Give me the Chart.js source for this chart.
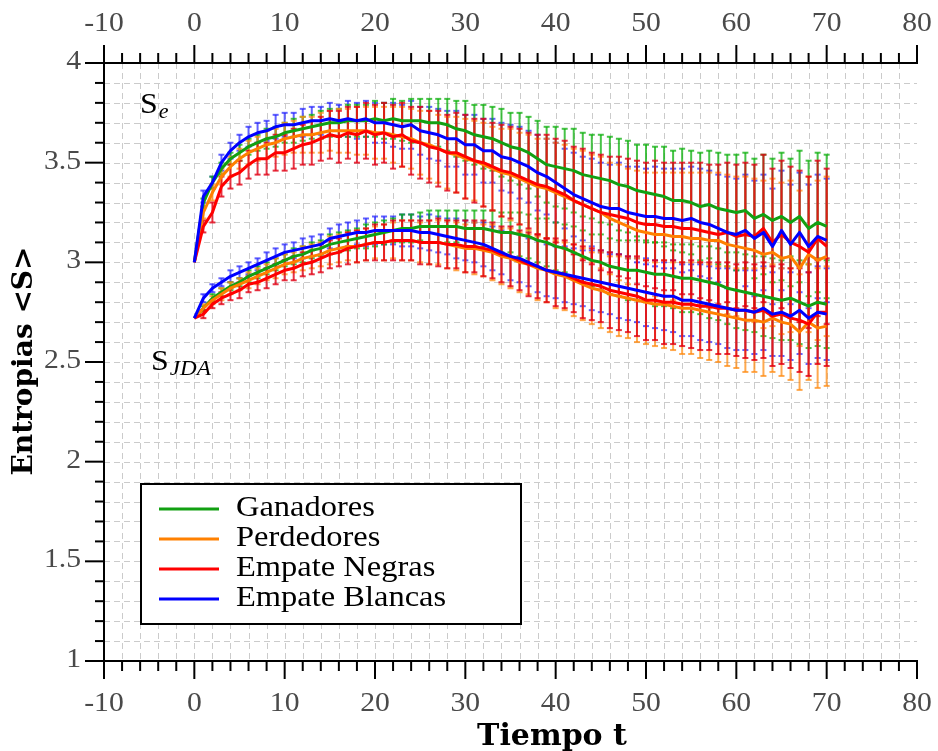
<!DOCTYPE html>
<html>
<head>
<meta charset="utf-8">
<script src="https://cdn.jsdelivr.net/npm/chart.js@4.4.0/dist/chart.umd.min.js"></script>
<style>
  html, body { margin: 0; padding: 0; background: #fff; }
</style>
</head>
<body>
<canvas id="myChart" width="938" height="751"></canvas>
<script>
// eje x: tiempo t = 0..70
const tiempo = Array.from({ length: 71 }, (_, i) => i)
const ticksX = [-10, 0, 10, 20, 30, 40, 50, 60, 70, 80]
const ticksY = [1, 1.5, 2, 2.5, 3, 3.5, 4]
const nombres = ['Ganadores', 'Perdedores', 'Empate Negras', 'Empate Blancas']

// S_e
const ganSe = [3.00,3.30,3.40,3.47,3.52,3.55,3.58,3.60,3.62,3.63,
  3.65,3.66,3.67,3.68,3.69,3.70,3.70,3.71,3.71,3.71,
  3.72,3.71,3.72,3.71,3.71,3.71,3.70,3.70,3.69,3.67,
  3.66,3.64,3.63,3.62,3.60,3.58,3.57,3.55,3.52,3.49,
  3.48,3.47,3.46,3.44,3.43,3.42,3.41,3.39,3.38,3.36,
  3.35,3.34,3.33,3.31,3.31,3.30,3.28,3.29,3.27,3.26,
  3.25,3.26,3.22,3.24,3.21,3.23,3.20,3.23,3.17,3.20,
  3.18]
const perSe = [3.00,3.25,3.35,3.43,3.48,3.52,3.55,3.57,3.59,3.60,
  3.62,3.63,3.64,3.64,3.65,3.66,3.66,3.66,3.66,3.66,
  3.65,3.65,3.64,3.63,3.62,3.60,3.59,3.57,3.55,3.54,
  3.52,3.51,3.49,3.47,3.45,3.44,3.42,3.40,3.38,3.37,
  3.35,3.33,3.31,3.29,3.27,3.25,3.22,3.20,3.18,3.16,
  3.15,3.14,3.14,3.13,3.13,3.12,3.12,3.11,3.11,3.09,
  3.08,3.07,3.06,3.04,3.05,3.02,3.03,2.97,3.04,3.01,
  3.03]
const negSe = [3.00,3.18,3.25,3.38,3.43,3.45,3.49,3.52,3.52,3.55,
  3.55,3.57,3.59,3.60,3.62,3.64,3.63,3.65,3.64,3.66,
  3.64,3.65,3.63,3.64,3.61,3.60,3.58,3.57,3.55,3.55,
  3.53,3.51,3.50,3.48,3.46,3.45,3.43,3.41,3.39,3.38,
  3.36,3.34,3.31,3.29,3.27,3.25,3.24,3.23,3.22,3.20,
  3.19,3.19,3.18,3.18,3.17,3.17,3.16,3.15,3.14,3.15,
  3.13,3.14,3.13,3.17,3.10,3.14,3.10,3.08,3.05,3.12,
  3.08]
const blaSe = [3.00,3.33,3.40,3.50,3.56,3.60,3.63,3.65,3.66,3.68,
  3.69,3.69,3.70,3.71,3.71,3.72,3.71,3.72,3.71,3.72,
  3.70,3.70,3.69,3.68,3.69,3.66,3.65,3.64,3.62,3.62,
  3.59,3.59,3.56,3.56,3.53,3.52,3.50,3.48,3.45,3.43,
  3.40,3.37,3.34,3.32,3.30,3.28,3.27,3.27,3.25,3.24,
  3.23,3.23,3.22,3.22,3.21,3.22,3.20,3.19,3.17,3.15,
  3.14,3.16,3.12,3.15,3.08,3.16,3.09,3.15,3.08,3.13,
  3.11]

// S_JDA
const ganJda = [2.72,2.77,2.82,2.85,2.88,2.90,2.93,2.95,2.97,2.99,
  3.01,3.03,3.04,3.06,3.07,3.09,3.10,3.11,3.12,3.13,
  3.14,3.15,3.16,3.17,3.17,3.18,3.18,3.18,3.18,3.18,
  3.17,3.17,3.17,3.16,3.15,3.15,3.14,3.13,3.11,3.10,
  3.08,3.07,3.05,3.03,3.01,3.00,2.98,2.97,2.96,2.96,
  2.95,2.94,2.94,2.93,2.92,2.92,2.91,2.90,2.89,2.87,
  2.86,2.85,2.84,2.83,2.82,2.81,2.82,2.80,2.78,2.80,
  2.79]
const perJda = [2.72,2.77,2.81,2.84,2.87,2.89,2.91,2.93,2.95,2.97,
  2.99,3.00,3.02,3.03,3.04,3.06,3.07,3.08,3.08,3.09,
  3.10,3.10,3.11,3.11,3.11,3.10,3.10,3.10,3.09,3.08,
  3.07,3.07,3.06,3.05,3.03,3.02,3.00,2.99,2.97,2.96,
  2.94,2.93,2.91,2.89,2.87,2.86,2.84,2.83,2.82,2.81,
  2.80,2.79,2.79,2.78,2.77,2.77,2.76,2.75,2.74,2.73,
  2.72,2.71,2.71,2.70,2.72,2.70,2.69,2.65,2.70,2.67,
  2.68]
const negJda = [2.72,2.74,2.79,2.82,2.84,2.86,2.89,2.90,2.92,2.94,
  2.96,2.97,2.99,3.00,3.02,3.04,3.05,3.07,3.08,3.09,
  3.10,3.10,3.11,3.11,3.11,3.10,3.10,3.10,3.09,3.09,
  3.08,3.08,3.07,3.06,3.04,3.03,3.01,2.99,2.98,2.96,
  2.95,2.94,2.92,2.90,2.89,2.88,2.86,2.85,2.84,2.83,
  2.81,2.81,2.80,2.80,2.79,2.79,2.78,2.78,2.77,2.77,
  2.76,2.76,2.75,2.76,2.73,2.74,2.72,2.71,2.69,2.75,
  2.75]
const blaJda = [2.72,2.82,2.87,2.90,2.93,2.95,2.97,2.99,3.01,3.03,
  3.05,3.06,3.07,3.08,3.09,3.12,3.13,3.14,3.15,3.15,
  3.16,3.16,3.16,3.16,3.16,3.15,3.15,3.14,3.13,3.12,
  3.11,3.10,3.09,3.07,3.05,3.03,3.02,3.00,2.98,2.96,
  2.95,2.94,2.93,2.92,2.91,2.90,2.89,2.88,2.87,2.86,
  2.85,2.84,2.83,2.83,2.81,2.81,2.80,2.79,2.78,2.77,
  2.76,2.76,2.75,2.77,2.74,2.75,2.73,2.76,2.72,2.75,
  2.74]

// barras de error (desviacion)
const errGanSe = [0,.02,.03,.03,.03,.04,.04,.04,.05,.05,
  .05,.06,.06,.06,.07,.07,.07,.08,.08,.08,
  .09,.09,.10,.10,.11,.11,.12,.12,.13,.14,
  .15,.15,.16,.16,.17,.17,.18,.18,.19,.19,
  .20,.20,.21,.21,.21,.22,.22,.23,.23,.23,
  .24,.24,.25,.25,.26,.26,.27,.27,.28,.28,
  .29,.29,.30,.30,.31,.32,.32,.33,.34,.35,
  .36]
const errPerSe = [0,.03,.04,.04,.05,.05,.06,.06,.07,.07,.08,
  .08,.09,.09,.10,.10,.11,.11,.12,.12,.13,
  .13,.14,.15,.15,.16,.17,.17,.18,.19,.20,
  .20,.21,.21,.22,.23,.23,.24,.24,.25,.25,
  .26,.26,.27,.27,.28,.28,.29,.29,.30,.30,
  .31,.31,.32,.32,.33,.33,.34,.34,.35,.35,
  .36,.36,.37,.37,.38,.38,.39,.39,.40,.40]
const errNegSe = [0,.03,.05,.05,.06,.06,.07,.08,.08,.09,.09,
  .10,.10,.11,.11,.12,.13,.13,.14,.14,.15,
  .15,.16,.16,.17,.18,.18,.19,.19,.20,.21,
  .21,.22,.22,.23,.23,.24,.24,.25,.26,.26,
  .27,.27,.28,.28,.29,.29,.30,.30,.31,.31,
  .32,.32,.32,.33,.33,.34,.34,.35,.35,.36,
  .36,.36,.37,.37,.37,.38,.38,.38,.39,.39]
const errBlaSe = [0,.03,.03,.04,.04,.04,.05,.05,.05,.06,.06,
  .06,.07,.07,.07,.08,.08,.09,.09,.09,.10,
  .10,.11,.11,.12,.12,.13,.13,.14,.14,.15,
  .15,.16,.16,.17,.17,.18,.18,.19,.19,.20,
  .20,.21,.21,.22,.22,.22,.23,.23,.24,.24,
  .25,.25,.25,.26,.26,.27,.27,.27,.28,.28,
  .28,.29,.29,.29,.30,.30,.30,.31,.31,.31]
const errGanJda = [0,.01,.02,.02,.02,.02,.03,.03,.03,.03,.03,
  .04,.04,.04,.04,.05,.05,.05,.05,.06,.06,
  .06,.06,.07,.07,.07,.08,.08,.08,.08,.09,
  .09,.09,.10,.10,.10,.11,.11,.11,.12,.12,
  .12,.13,.13,.13,.14,.14,.14,.15,.15,.15,
  .16,.16,.16,.17,.17,.17,.18,.18,.18,.19,
  .19,.19,.20,.20,.20,.21,.21,.21,.22,.22]
const errPerJda = [0,.02,.02,.03,.03,.03,.04,.04,.04,.05,.05,
  .05,.06,.06,.06,.07,.07,.07,.08,.08,.08,
  .09,.09,.10,.10,.10,.11,.11,.12,.12,.12,
  .13,.13,.14,.14,.15,.15,.15,.16,.16,.17,
  .17,.18,.18,.18,.19,.19,.20,.20,.21,.21,
  .21,.22,.22,.23,.23,.24,.24,.24,.25,.25,
  .26,.26,.27,.27,.27,.28,.29,.29,.30,.30]
const errNegJda = [0,.02,.02,.03,.03,.04,.04,.04,.05,.05,.05,
  .06,.06,.06,.07,.07,.07,.08,.08,.08,.09,
  .09,.10,.10,.10,.11,.11,.12,.12,.12,.13,
  .13,.14,.14,.14,.15,.15,.16,.16,.16,.17,
  .17,.17,.18,.18,.18,.19,.19,.19,.20,.20,
  .20,.21,.21,.21,.22,.22,.22,.23,.23,.23,
  .24,.24,.24,.25,.25,.25,.26,.26,.26,.27]
const errBlaJda = [0,.02,.02,.02,.03,.03,.03,.03,.04,.04,.04,
  .04,.05,.05,.05,.05,.06,.06,.06,.07,.07,
  .07,.07,.08,.08,.08,.09,.09,.09,.10,.10,
  .10,.11,.11,.11,.12,.12,.12,.13,.13,.13,
  .14,.14,.14,.15,.15,.15,.16,.16,.16,.17,
  .17,.17,.18,.18,.18,.19,.19,.19,.20,.20,
  .20,.21,.21,.21,.22,.22,.22,.23,.23,.23]

const colores = ['#12a012', '#ff8000', '#ff0000', '#0000ff']
const coloresError = ['rgba(10,175,10,0.75)', 'rgba(255,140,20,0.75)', 'rgba(225,0,20,0.8)', 'rgba(30,30,255,0.7)']

const medias = [[ganSe, ganJda], [perSe, perJda], [negSe, negJda], [blaSe, blaJda]]
const errores = [[errGanSe, errGanJda], [errPerSe, errPerJda], [errNegSe, errNegJda], [errBlaSe, errBlaJda]]
// orden de dibujo de las lineas: azul arriba
const ordenLinea = [3, 2, 1, 0]
// orden de dibujo de las barras: azul, verde, naranja, rojo
const ordenBarras = [3, 0, 1, 2]

const datasets = []
nombres.forEach((nombre, k) => {
  medias[k].forEach((serie, j) => {
    datasets.push({
      label: nombre,
      data: serie.map((v, i) => ({ x: tiempo[i], y: v })),
      errores: errores[k][j],
      serieIdx: k,
      borderColor: colores[k],
      backgroundColor: colores[k],
      borderWidth: 3,
      pointRadius: 0,
      tension: 0,
      borderJoinStyle: 'round',
      order: ordenLinea[k]
    })
  })
})

const texto = (ctx, str, x, y, font, color, align, sx) => {
  ctx.save()
  ctx.font = font
  ctx.fillStyle = color
  ctx.textBaseline = 'middle'
  ctx.textAlign = 'left'
  const w = ctx.measureText(str).width * sx
  let x0 = x
  if (align === 'center') x0 = x - w / 2
  if (align === 'right') x0 = x - w
  ctx.translate(x0, y)
  ctx.scale(sx, 1)
  ctx.fillText(str, 0, 0)
  ctx.restore()
  return w
}

const linea = (ctx, x1, y1, x2, y2) => {
  ctx.beginPath()
  ctx.moveTo(x1, y1)
  ctx.lineTo(x2, y2)
  ctx.stroke()
}

const dibujo = {
  id: 'dibujo',
  beforeDatasetsDraw(chart) {
    const ctx = chart.ctx
    const xs = chart.scales.x
    const ys = chart.scales.y
    const ca = chart.chartArea
    // rejilla
    ctx.save()
    ctx.strokeStyle = '#cbcbcb'
    ctx.lineWidth = 1
    ctx.setLineDash([6, 4])
    for (let v = -8; v < 80; v += 2) {
      const px = Math.round(xs.getPixelForValue(v)) + 0.5
      linea(ctx, px, ca.top, px, ca.bottom)
    }
    for (let k = 11; k < 40; k++) {
      const py = Math.round(ys.getPixelForValue(k / 10)) + 0.5
      linea(ctx, ca.left, py, ca.right, py)
    }
    ctx.restore()
    // barras de error
    ctx.save()
    ctx.lineWidth = 2
    ordenBarras.forEach(k => {
      chart.data.datasets.forEach(ds => {
        if (ds.serieIdx !== k) return
        ctx.strokeStyle = coloresError[k]
        ds.data.forEach((p, i) => {
          const e = ds.errores[i]
          if (!e) return
          const px = xs.getPixelForValue(p.x)
          const y1 = ys.getPixelForValue(p.y + e)
          const y2 = ys.getPixelForValue(p.y - e)
          linea(ctx, px, y1, px, y2)
          linea(ctx, px - 3, y1, px + 3, y1)
          linea(ctx, px - 3, y2, px + 3, y2)
        })
      })
    })
    ctx.restore()
  },
  afterDraw(chart) {
    const ctx = chart.ctx
    const xs = chart.scales.x
    const ys = chart.scales.y
    const ca = chart.chartArea
    ctx.save()
    ctx.strokeStyle = '#000'
    ctx.lineCap = 'butt'
    ctx.lineWidth = 2
    linea(ctx, ca.left, ca.top - 1, ca.left, ca.bottom + 1)
    linea(ctx, ca.left - 1, ca.bottom, ca.right + 1, ca.bottom)
    linea(ctx, ca.left - 1, ca.top, ca.right + 1, ca.top)
    // marcas eje x (abajo y arriba)
    for (let v = -10; v <= 80; v += 2) {
      const px = xs.getPixelForValue(v)
      const mayor = v % 10 === 0
      linea(ctx, px, ca.bottom, px, ca.bottom + (mayor ? 18 : 10))
      linea(ctx, px, ca.top, px, ca.top - (mayor ? 18 : 10))
    }
    // marcas eje y
    for (let k = 10; k <= 40; k++) {
      const py = ys.getPixelForValue(k / 10)
      const mayor = k % 5 === 0
      linea(ctx, ca.left - (mayor ? 19 : 9), py, ca.left, py)
    }
    ctx.restore()

    const fuente = '27px "Liberation Serif", serif'
    const gris = '#4a4a4a'
    ticksX.forEach(v => {
      const px = xs.getPixelForValue(v)
      texto(ctx, String(v), px, ca.bottom + 43, fuente, gris, 'center', 1.1)
      texto(ctx, String(v), px, ca.top - 39, fuente, gris, 'center', 1.1)
    })
    ticksY.forEach(v => {
      const py = ys.getPixelForValue(v)
      texto(ctx, String(v), 81, py - 1, fuente, gris, 'right', 1.1)
    })

    // titulos
    texto(ctx, 'Tiempo t', 552, 737, 'bold 30px "DejaVu Serif", serif', '#000', 'center', 1.0)
    ctx.save()
    ctx.translate(25, 361)
    ctx.rotate(-Math.PI / 2)
    texto(ctx, 'Entropias <S>', 0, 0, 'bold 28px "DejaVu Serif", serif', '#000', 'center', 1.0)
    ctx.restore()

    // anotaciones S_e y S_JDA
    let w = texto(ctx, 'S', 140, 105, '29px "Liberation Serif", serif', '#000', 'left', 1.1)
    texto(ctx, 'e', 140 + w + 1, 112, 'italic 21px "Liberation Serif", serif', '#000', 'left', 1.05)
    w = texto(ctx, 'S', 151, 362, '29px "Liberation Serif", serif', '#000', 'left', 1.1)
    texto(ctx, 'JDA', 151 + w + 1, 369, 'italic 21px "Liberation Serif", serif', '#000', 'left', 1.1)

    // leyenda
    ctx.save()
    ctx.fillStyle = '#fff'
    ctx.fillRect(141, 484, 380, 140)
    ctx.strokeStyle = '#000'
    ctx.lineWidth = 2
    ctx.strokeRect(141, 484, 380, 140)
    ctx.lineWidth = 3
    nombres.forEach((nombre, k) => {
      const py = 509 + k * 30
      ctx.strokeStyle = colores[k]
      linea(ctx, 159, py, 219, py)
      texto(ctx, nombre, 236, py - 1, '29px "Liberation Serif", serif', '#000', 'left', 1.12)
    })
    ctx.restore()
  }
}

const ctx = document.getElementById('myChart').getContext('2d')
new Chart(ctx, {
  type: 'line',
  data: { datasets: datasets },
  options: {
    responsive: false,
    animation: false,
    devicePixelRatio: 1,
    layout: { padding: { left: 104, top: 63, right: 21, bottom: 90 } },
    scales: {
      x: { type: 'linear', display: false, min: -10, max: 80 },
      y: { type: 'linear', display: false, min: 1, max: 4 }
    },
    plugins: {
      legend: { display: false },
      tooltip: { enabled: false }
    }
  },
  plugins: [dibujo]
})
</script>
</body>
</html>
